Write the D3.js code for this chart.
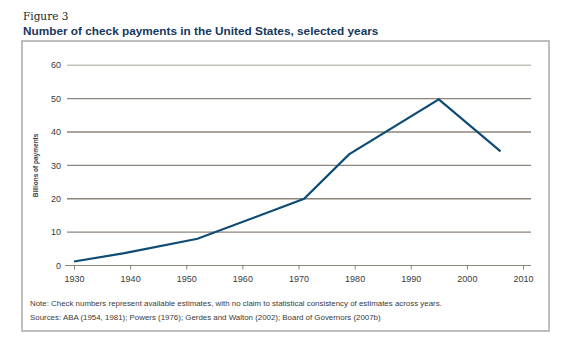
<!DOCTYPE html>
<html>
<head>
<meta charset="utf-8">
<script src="https://cdn.jsdelivr.net/npm/d3@7"></script>
<style>
  body { margin: 0; background: #fff; }
  svg { display: block; }
</style>
</head>
<body>
<svg id="chart" width="570" height="351"></svg>
<script>
// values (billions of checks)
const years = [1930, 1939, 1952, 1971, 1979, 1995, 2006];
const payments = [1.2, 3.7, 8.0, 20.0, 33.3, 49.8, 34.2];
const yTicks = [0, 10, 20, 30, 40, 50, 60];
const xTicks = [1930, 1940, 1950, 1960, 1970, 1980, 1990, 2000, 2010];

const LINE_COLOR = '#0f4c75';
const GRID_COLOR = '#8c857b';
const TEXT_COLOR = '#3a3a3a';
const TITLE_COLOR = '#16385a';

const svg = d3.select('#chart');

svg.append('text')
  .attr('x', 23).attr('y', 20)
  .attr('font-family', 'DejaVu Serif, serif')
  .attr('font-size', 10.5)
  .attr('fill', '#222')
  .text('Figure 3');

svg.append('text')
  .attr('x', 23).attr('y', 35)
  .attr('font-family', 'Liberation Sans, Arial, sans-serif')
  .attr('font-weight', 'bold')
  .attr('font-size', 11.8)
  .attr('fill', TITLE_COLOR)
  .text('Number of check payments in the United States, selected years');

// outer frame
svg.append('rect')
  .attr('x', 22).attr('y', 41)
  .attr('width', 527).attr('height', 290)
  .attr('fill', 'none')
  .attr('stroke', '#a9a9a9')
  .attr('stroke-width', 1.5);

const x = d3.scaleLinear().domain([1930, 2010]).range([74, 523]);
const y = d3.scaleLinear().domain([0, 60]).range([265.5, 65.3]);

const gridLeft = 67, gridRight = 531;

const grid = svg.append('g');
grid.selectAll('line')
  .data(yTicks.filter(d => d > 0))
  .enter().append('line')
  .attr('x1', gridLeft).attr('x2', gridRight)
  .attr('y1', d => y(d)).attr('y2', d => y(d))
  .attr('stroke', d => d === 60 ? '#c4c1bb' : GRID_COLOR)
  .attr('stroke-width', 1.4);

// y labels
svg.append('g').selectAll('text')
  .data(yTicks)
  .enter().append('text')
  .attr('x', 61).attr('y', d => y(d))
  .attr('dy', '0.35em')
  .attr('text-anchor', 'end')
  .attr('font-family', 'Liberation Sans, Arial, sans-serif')
  .attr('font-size', 9)
  .attr('fill', TEXT_COLOR)
  .text(d => d);

// x axis
const xAxis = d3.axisBottom(x)
  .tickValues(xTicks)
  .tickFormat(d3.format('d'))
  .tickSizeInner(4)
  .tickSizeOuter(0);

const axisG = svg.append('g')
  .attr('transform', `translate(0,${y(0)})`)
  .call(xAxis);
axisG.select('.domain').remove();
axisG.append('line')
  .attr('x1', gridLeft - 2).attr('x2', gridRight)
  .attr('stroke', GRID_COLOR).attr('stroke-width', 1.2);
axisG.selectAll('.tick line').attr('stroke', GRID_COLOR).attr('stroke-width', 1);
axisG.selectAll('text')
  .attr('font-family', 'Liberation Sans, Arial, sans-serif')
  .attr('font-size', 9)
  .attr('fill', TEXT_COLOR)
  .attr('dy', '1.05em');

// y axis title
svg.append('text')
  .attr('transform', `translate(38,${(y(0) + y(60)) / 2}) rotate(-90)`)
  .attr('text-anchor', 'middle')
  .attr('font-family', 'Liberation Sans, Arial, sans-serif')
  .attr('font-weight', 'bold')
  .attr('font-size', 6.5)
  .attr('fill', TEXT_COLOR)
  .text('Billions of payments');

// data line
const line = d3.line()
  .x((d, i) => x(years[i]))
  .y(d => y(d));

svg.append('path')
  .datum(payments)
  .attr('d', line)
  .attr('fill', 'none')
  .attr('stroke', LINE_COLOR)
  .attr('stroke-width', 2.2)
  .attr('stroke-linejoin', 'miter');

// notes
const notes = [
  'Note: Check numbers represent available estimates, with no claim to statistical consistency of estimates across years.',
  'Sources: ABA (1954, 1981); Powers (1976); Gerdes and Walton (2002); Board of Governors (2007b)'
];
svg.append('g').selectAll('text')
  .data(notes)
  .enter().append('text')
  .attr('x', 30)
  .attr('y', (d, i) => 306 + i * 14)
  .attr('font-family', 'Liberation Sans, Arial, sans-serif')
  .attr('font-size', 7.9)
  .attr('fill', TEXT_COLOR)
  .text(d => d);
</script>
</body>
</html>
